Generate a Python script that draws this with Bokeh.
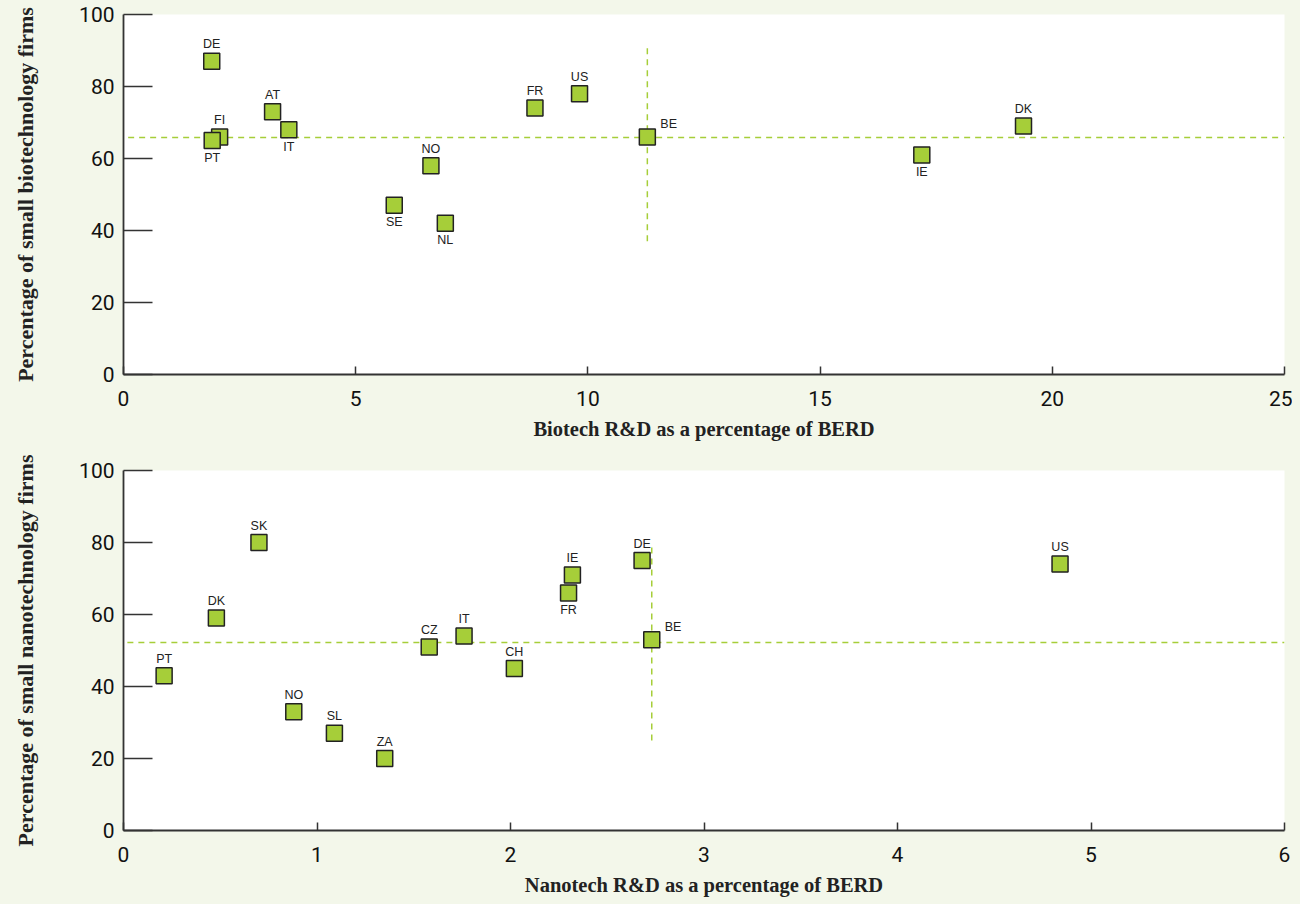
from bokeh.plotting import figure
from bokeh.layouts import column
from bokeh.models import ColumnDataSource, Range1d, FixedTicker
from bokeh.core.properties import value
from bokeh.embed import file_html
from bokeh.resources import INLINE

# ---------------- data ----------------
bio_countries = ["DE", "FI", "PT", "AT", "IT", "SE", "NO", "NL", "FR", "US", "BE", "IE", "DK"]
bio_x = [1.90, 2.07, 1.91, 3.21, 3.56, 5.83, 6.62, 6.93, 8.86, 9.82, 11.28, 17.19, 19.38]
bio_y = [87, 66, 65, 73, 68, 47, 58, 42, 74, 78, 66, 61, 69]
bio_label_pos = ["above", "above", "below", "above", "below", "below", "above",
                 "below", "above", "above", "right", "below", "above"]
bio_ref_x = 11.28
bio_ref_y = 65.8
bio_ref_vspan = [37, 91]
bio_ref_hspan = [0.1, 25]

nano_countries = ["PT", "DK", "SK", "NO", "SL", "ZA", "CZ", "IT", "CH", "IE", "FR", "DE", "BE", "US"]
nano_x = [0.21, 0.48, 0.70, 0.88, 1.09, 1.35, 1.58, 1.76, 2.02, 2.32, 2.30, 2.68, 2.73, 4.84]
nano_y = [43, 59, 80, 33, 27, 20, 51, 54, 45, 71, 66, 75, 53, 74]
nano_label_pos = ["above", "above", "above", "above", "above", "above", "above",
                  "above", "above", "above", "below", "above", "right", "above"]
nano_ref_x = 2.73
nano_ref_y = 52.2
nano_ref_vspan = [25, 79]
nano_ref_hspan = [0.02, 6]

bio_xticks = [0, 5, 10, 15, 20, 25]
nano_xticks = [0, 1, 2, 3, 4, 5, 6]
y_ticks = [0, 20, 40, 60, 80, 100]

# ---------------- style ----------------
PAGE_BG = "#F3F7EA"
GREEN = "#A6CE39"
EDGE = "#222222"
TICK_FONT = "Roboto"
LABEL_FONT = "Liberation Serif"


def make_panel(xs, ys, names, pos, ref_x, ref_y, vspan, hspan, xmax, xticks,
               xlabel, ylabel, height, border_top, border_bottom):
    p = figure(width=1292, height=height, output_backend="svg", toolbar_location=None,
               x_range=Range1d(0, xmax), y_range=Range1d(0, 100),
               min_border_left=123, min_border_right=8,
               min_border_top=border_top, min_border_bottom=border_bottom)
    p.background_fill_color = "white"
    p.border_fill_color = PAGE_BG
    p.outline_line_color = None
    p.grid.visible = False

    # reference dashed lines
    p.line(hspan, [ref_y, ref_y], line_color=GREEN, line_dash="6 5", line_width=1.5)
    p.line([ref_x, ref_x], vspan, line_color=GREEN, line_dash="6 5", line_width=1.5)

    src = ColumnDataSource(dict(x=xs, y=ys, name=names))
    p.scatter("x", "y", source=src, marker="square", size=16,
              fill_color=GREEN, line_color=EDGE, line_width=1.5)

    for where, dx, dy, align in [("above", 0, -17, "center"),
                                 ("below", 0, 17, "center"),
                                 ("right", 13, -13, "left")]:
        idx = [i for i, w in enumerate(pos) if w == where]
        if not idx:
            continue
        s = ColumnDataSource(dict(x=[xs[i] for i in idx], y=[ys[i] for i in idx],
                                  t=[names[i] for i in idx]))
        p.text("x", "y", text="t", source=s, x_offset=dx, y_offset=dy,
               text_align=align, text_baseline="middle",
               text_font=value("Liberation Sans"), text_font_size="12.5px",
               text_color="#222222")

    for ax in (p.xaxis[0], p.yaxis[0]):
        ax.axis_line_color = "#333333"
        ax.axis_line_width = 1.8
        ax.major_tick_line_color = "#333333"
        ax.major_tick_line_width = 1.5
        ax.minor_tick_line_color = None
        ax.major_tick_out = 0
        ax.major_label_text_font = TICK_FONT
        ax.major_label_text_font_size = "21px"
        ax.major_label_text_color = "#111111"
        ax.axis_label_text_font = LABEL_FONT
        ax.axis_label_text_font_style = "bold"
        ax.axis_label_text_color = "#222222"

    p.xaxis.axis_label_text_font_size = "20.5px"
    p.yaxis.axis_label_text_font_size = "22px"
    p.xaxis.ticker = FixedTicker(ticks=xticks)
    p.yaxis.ticker = FixedTicker(ticks=y_ticks)
    p.xaxis.major_tick_in = 8
    p.yaxis.major_tick_in = 29
    p.xaxis.major_label_standoff = 16
    p.yaxis.major_label_standoff = 9
    p.xaxis.axis_label = xlabel
    p.yaxis.axis_label = ylabel
    p.xaxis.axis_label_standoff = 9
    p.yaxis.axis_label_standoff = 38
    return p


p1 = make_panel(bio_x, bio_y, bio_countries, bio_label_pos, bio_ref_x, bio_ref_y,
                bio_ref_vspan, bio_ref_hspan, 25, bio_xticks,
                "Biotech R&D as a percentage of BERD",
                "Percentage of small biotechnology firms",
                height=450, border_top=14, border_bottom=76)
p2 = make_panel(nano_x, nano_y, nano_countries, nano_label_pos, nano_ref_x, nano_ref_y,
                nano_ref_vspan, nano_ref_hspan, 6, nano_xticks,
                "Nanotech R&D as a percentage of BERD",
                "Percentage of small nanotechnology firms",
                height=450, border_top=20, border_bottom=70)

layout = column(p1, p2, spacing=0, styles={"background-color": PAGE_BG})
html = file_html(layout, INLINE)
html = html.replace("<body>", '<body style="background-color:%s;">' % PAGE_BG)
open("out.html", "w").write(html)
